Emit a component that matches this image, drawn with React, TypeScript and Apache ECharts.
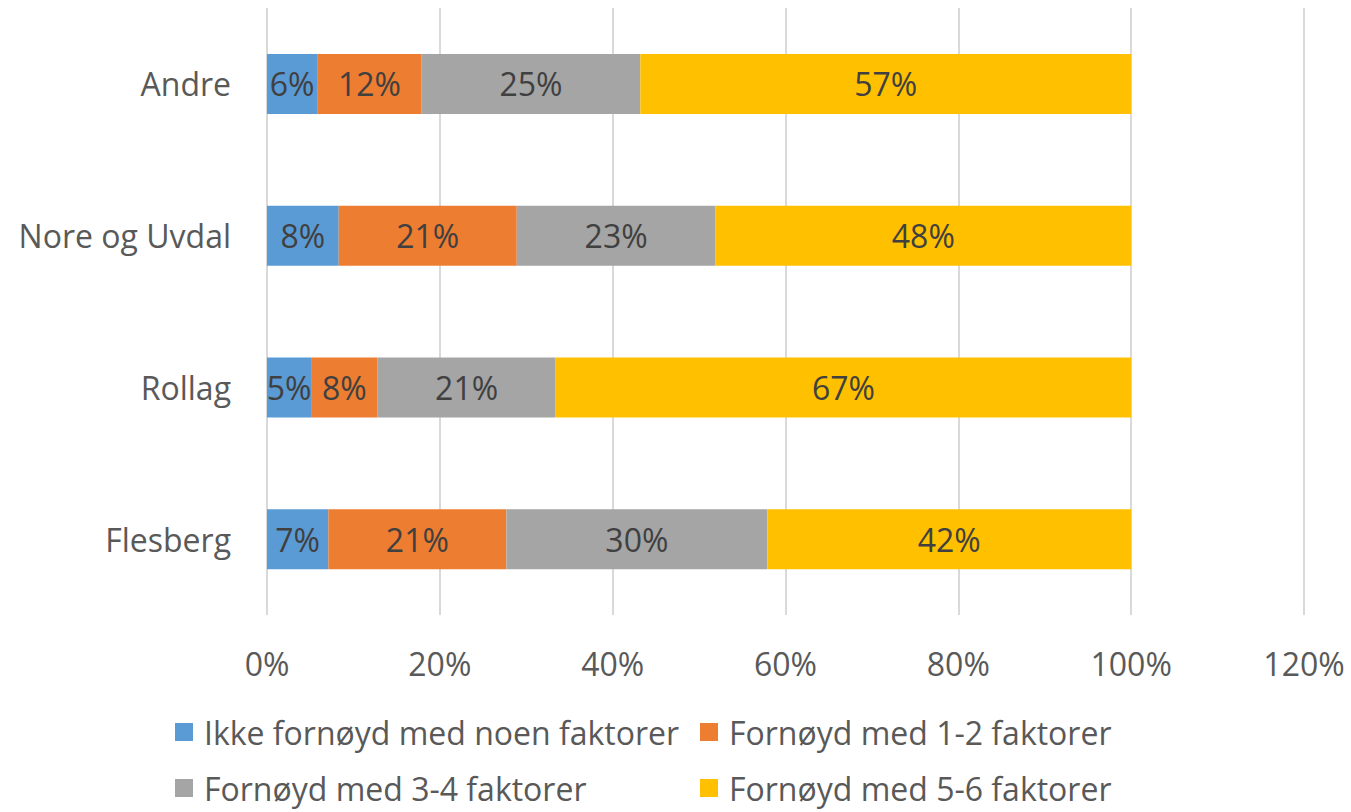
import React, { useEffect, useRef } from "react";
import * as echarts from "echarts";

const categories = ["Flesberg", "Rollag", "Nore og Uvdal", "Andre"];
const seriesNames = [
  "Ikke fornøyd med noen faktorer",
  "Fornøyd med 1-2 faktorer",
  "Fornøyd med 3-4 faktorer",
  "Fornøyd med 5-6 faktorer",
];
const ikkeFornoyd = [7.1, 5.1, 8.3, 5.8];
const fornoyd12 = [20.6, 7.7, 20.6, 12.1];
const fornoyd34 = [30.2, 20.6, 23.0, 25.3];
const fornoyd56 = [42.1, 66.6, 48.1, 56.8];
const xTicks = [0, 20, 40, 60, 80, 100, 120];
const colors = ["#5B9BD5", "#ED7D31", "#A5A5A5", "#FFC000"];

const FONT = "Open Sans";

export default function App() {
  const ref = useRef<HTMLDivElement>(null);
  useEffect(() => {
    if (!ref.current) return;
    const chart = echarts.init(ref.current, undefined, { renderer: "svg" });
    const values = [ikkeFornoyd, fornoyd12, fornoyd34, fornoyd56];
    const legendPos = [
      { left: 175, top: 715 },
      { left: 700, top: 715 },
      { left: 175, top: 771 },
      { left: 700, top: 771 },
    ];
    chart.setOption({
      animation: false,
      textStyle: { fontFamily: FONT },
      grid: { left: 267, right: 47, top: 8, bottom: 197, containLabel: false },
      xAxis: {
        type: "value",
        min: xTicks[0],
        max: xTicks[xTicks.length - 1],
        interval: 20,
        axisLine: { show: false },
        axisTick: { show: false },
        axisLabel: {
          formatter: (v: number) => v + "%",
          color: "#595959",
          fontSize: 32,
          margin: 32,
          fontFamily: FONT,
        },
        splitLine: { show: true, lineStyle: { color: "#D9D9D9", width: 2 } },
      },
      yAxis: {
        type: "category",
        data: categories,
        axisLine: { show: false },
        axisTick: { show: false },
        axisLabel: { color: "#595959", fontSize: 32, margin: 36, fontFamily: FONT },
      },
      legend: seriesNames.map((n, i) => ({
        data: [n],
        left: legendPos[i].left,
        top: legendPos[i].top,
        padding: 0,
        itemWidth: 18,
        itemHeight: 18,
        icon: "rect",
        textStyle: {
          color: "#595959",
          fontSize: 32,
          fontFamily: FONT,
          lineHeight: 34,
          padding: [0, 0, 0, 6],
        },
      })),
      series: seriesNames.map((n, i) => ({
        name: n,
        type: "bar",
        stack: "total",
        barWidth: 60,
        data: values[i],
        itemStyle: { color: colors[i] },
        label: {
          show: true,
          position: "inside",
          formatter: (p: any) => Math.round(p.value) + "%",
          color: "#404040",
          fontSize: 32,
          fontFamily: FONT,
        },
      })),
    });
    return () => chart.dispose();
  }, []);
  return <div ref={ref} style={{ width: 1351, height: 812, position: "absolute", left: 0, top: 0, background: "#fff" }} />;
}
